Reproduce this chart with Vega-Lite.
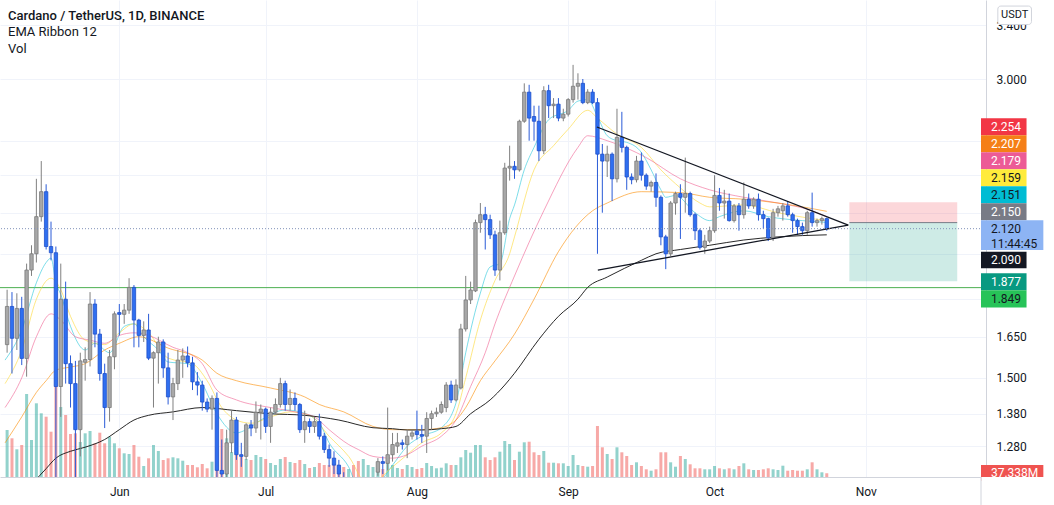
{
"$schema": "https://vega.github.io/schema/vega-lite/v6.json",
"width": 986, "height": 477,
"autosize": {"type": "none"},
"padding": {"left": 0, "top": 0, "right": 68, "bottom": 28},
"background": "white",
"config": {"view": {"stroke": null}, "font": "Roboto"},
"title": {"text": "Cardano / TetherUS, 1D, BINANCE", "subtitle": ["EMA Ribbon 12", "Vol"], "anchor": "start", "frame": "group", "orient": "top", "offset": -56, "dx": 8, "font": "Roboto", "fontSize": 13, "fontWeight": 500, "color": "#131722", "subtitleFont": "Roboto", "subtitleFontSize": 13, "subtitleColor": "#131722", "subtitlePadding": 3, "subtitleLineHeight": 17},
"datasets": {
"k": [
{"d":"2021-05-09","o":1.62,"h":1.84,"l":1.59,"c":1.77,"v":470},
{"d":"2021-05-10","o":1.77,"h":1.83,"l":1.515,"c":1.644,"v":387},
{"d":"2021-05-11","o":1.644,"h":1.825,"l":1.6,"c":1.762,"v":277},
{"d":"2021-05-12","o":1.762,"h":1.81,"l":1.545,"c":1.569,"v":320},
{"d":"2021-05-13","o":1.569,"h":1.955,"l":1.504,"c":1.926,"v":830},
{"d":"2021-05-14","o":1.926,"h":2.04,"l":1.9,"c":2.0,"v":370},
{"d":"2021-05-15","o":2.0,"h":2.38,"l":1.96,"c":2.18,"v":737},
{"d":"2021-05-16","o":2.18,"h":2.48,"l":2.155,"c":2.31,"v":637},
{"d":"2021-05-17","o":2.31,"h":2.35,"l":2.02,"c":2.034,"v":603},
{"d":"2021-05-18","o":2.034,"h":2.155,"l":1.97,"c":2.005,"v":453},
{"d":"2021-05-19","o":2.005,"h":2.034,"l":1.0,"c":1.47,"v":1000},
{"d":"2021-05-20","o":1.47,"h":1.955,"l":1.37,"c":1.8,"v":700},
{"d":"2021-05-21","o":1.8,"h":1.875,"l":1.48,"c":1.55,"v":620},
{"d":"2021-05-22","o":1.55,"h":1.58,"l":1.4,"c":1.48,"v":430},
{"d":"2021-05-23","o":1.48,"h":1.56,"l":1.18,"c":1.33,"v":437},
{"d":"2021-05-24","o":1.33,"h":1.59,"l":1.25,"c":1.56,"v":350},
{"d":"2021-05-25","o":1.555,"h":1.61,"l":1.49,"c":1.565,"v":437},
{"d":"2021-05-26","o":1.565,"h":1.83,"l":1.54,"c":1.78,"v":460},
{"d":"2021-05-27","o":1.78,"h":1.8,"l":1.61,"c":1.66,"v":337},
{"d":"2021-05-28","o":1.66,"h":1.68,"l":1.49,"c":1.515,"v":443},
{"d":"2021-05-29","o":1.515,"h":1.55,"l":1.335,"c":1.4,"v":337},
{"d":"2021-05-30","o":1.4,"h":1.6,"l":1.355,"c":1.575,"v":403},
{"d":"2021-05-31","o":1.575,"h":1.75,"l":1.53,"c":1.74,"v":337},
{"d":"2021-06-01","o":1.745,"h":1.78,"l":1.655,"c":1.738,"v":287},
{"d":"2021-06-02","o":1.738,"h":1.78,"l":1.7,"c":1.755,"v":237},
{"d":"2021-06-03","o":1.755,"h":1.89,"l":1.74,"c":1.85,"v":230},
{"d":"2021-06-04","o":1.85,"h":1.86,"l":1.61,"c":1.715,"v":320},
{"d":"2021-06-05","o":1.715,"h":1.72,"l":1.61,"c":1.655,"v":203},
{"d":"2021-06-06","o":1.655,"h":1.71,"l":1.63,"c":1.676,"v":110},
{"d":"2021-06-07","o":1.676,"h":1.74,"l":1.563,"c":1.57,"v":187},
{"d":"2021-06-08","o":1.57,"h":1.595,"l":1.4,"c":1.59,"v":320},
{"d":"2021-06-09","o":1.59,"h":1.65,"l":1.48,"c":1.63,"v":260},
{"d":"2021-06-10","o":1.63,"h":1.64,"l":1.5,"c":1.535,"v":170},
{"d":"2021-06-11","o":1.535,"h":1.59,"l":1.41,"c":1.435,"v":187},
{"d":"2021-06-12","o":1.435,"h":1.5,"l":1.36,"c":1.48,"v":197},
{"d":"2021-06-13","o":1.48,"h":1.6,"l":1.458,"c":1.563,"v":187},
{"d":"2021-06-14","o":1.563,"h":1.606,"l":1.5,"c":1.578,"v":163},
{"d":"2021-06-15","o":1.578,"h":1.613,"l":1.537,"c":1.553,"v":120},
{"d":"2021-06-16","o":1.553,"h":1.575,"l":1.458,"c":1.486,"v":120},
{"d":"2021-06-17","o":1.486,"h":1.52,"l":1.44,"c":1.475,"v":97},
{"d":"2021-06-18","o":1.475,"h":1.49,"l":1.39,"c":1.418,"v":130},
{"d":"2021-06-19","o":1.418,"h":1.43,"l":1.385,"c":1.395,"v":87},
{"d":"2021-06-20","o":1.395,"h":1.44,"l":1.33,"c":1.43,"v":153},
{"d":"2021-06-21","o":1.43,"h":1.45,"l":1.18,"c":1.21,"v":300},
{"d":"2021-06-22","o":1.21,"h":1.3,"l":1.04,"c":1.2,"v":480},
{"d":"2021-06-23","o":1.2,"h":1.33,"l":1.18,"c":1.29,"v":387},
{"d":"2021-06-24","o":1.29,"h":1.39,"l":1.26,"c":1.36,"v":250},
{"d":"2021-06-25","o":1.36,"h":1.37,"l":1.24,"c":1.255,"v":287},
{"d":"2021-06-26","o":1.255,"h":1.29,"l":1.22,"c":1.25,"v":200},
{"d":"2021-06-27","o":1.25,"h":1.35,"l":1.24,"c":1.345,"v":180},
{"d":"2021-06-28","o":1.345,"h":1.36,"l":1.31,"c":1.335,"v":170},
{"d":"2021-06-29","o":1.335,"h":1.42,"l":1.32,"c":1.385,"v":220},
{"d":"2021-06-30","o":1.385,"h":1.41,"l":1.3,"c":1.395,"v":200},
{"d":"2021-07-01","o":1.395,"h":1.4,"l":1.32,"c":1.34,"v":180},
{"d":"2021-07-02","o":1.34,"h":1.4,"l":1.29,"c":1.385,"v":140},
{"d":"2021-07-03","o":1.385,"h":1.43,"l":1.38,"c":1.41,"v":120},
{"d":"2021-07-04","o":1.41,"h":1.5,"l":1.4,"c":1.48,"v":180},
{"d":"2021-07-05","o":1.48,"h":1.49,"l":1.39,"c":1.41,"v":200},
{"d":"2021-07-06","o":1.41,"h":1.46,"l":1.39,"c":1.43,"v":150},
{"d":"2021-07-07","o":1.43,"h":1.45,"l":1.39,"c":1.41,"v":140},
{"d":"2021-07-08","o":1.41,"h":1.415,"l":1.32,"c":1.33,"v":170},
{"d":"2021-07-09","o":1.33,"h":1.39,"l":1.29,"c":1.355,"v":130},
{"d":"2021-07-10","o":1.355,"h":1.365,"l":1.32,"c":1.34,"v":90},
{"d":"2021-07-11","o":1.34,"h":1.37,"l":1.32,"c":1.355,"v":100},
{"d":"2021-07-12","o":1.355,"h":1.38,"l":1.3,"c":1.31,"v":140},
{"d":"2021-07-13","o":1.31,"h":1.32,"l":1.26,"c":1.27,"v":120},
{"d":"2021-07-14","o":1.27,"h":1.285,"l":1.22,"c":1.245,"v":120},
{"d":"2021-07-15","o":1.245,"h":1.265,"l":1.2,"c":1.225,"v":140},
{"d":"2021-07-16","o":1.225,"h":1.24,"l":1.17,"c":1.2,"v":120},
{"d":"2021-07-17","o":1.19,"h":1.205,"l":1.15,"c":1.17,"v":100},
{"d":"2021-07-18","o":1.17,"h":1.19,"l":1.15,"c":1.18,"v":80},
{"d":"2021-07-19","o":1.18,"h":1.185,"l":1.1,"c":1.12,"v":120},
{"d":"2021-07-20","o":1.12,"h":1.13,"l":1.02,"c":1.05,"v":160},
{"d":"2021-07-21","o":1.05,"h":1.17,"l":1.03,"c":1.15,"v":180},
{"d":"2021-07-22","o":1.15,"h":1.185,"l":1.12,"c":1.17,"v":120},
{"d":"2021-07-23","o":1.17,"h":1.19,"l":1.15,"c":1.185,"v":100},
{"d":"2021-07-24","o":1.205,"h":1.245,"l":1.195,"c":1.235,"v":90},
{"d":"2021-07-25","o":1.235,"h":1.25,"l":1.2,"c":1.23,"v":80},
{"d":"2021-07-26","o":1.23,"h":1.4,"l":1.21,"c":1.255,"v":160},
{"d":"2021-07-27","o":1.255,"h":1.32,"l":1.235,"c":1.285,"v":120},
{"d":"2021-07-28","o":1.28,"h":1.32,"l":1.26,"c":1.29,"v":90},
{"d":"2021-07-29","o":1.29,"h":1.3,"l":1.27,"c":1.285,"v":80},
{"d":"2021-07-30","o":1.285,"h":1.33,"l":1.245,"c":1.31,"v":120},
{"d":"2021-07-31","o":1.31,"h":1.33,"l":1.3,"c":1.32,"v":100},
{"d":"2021-08-01","o":1.325,"h":1.39,"l":1.3,"c":1.315,"v":80},
{"d":"2021-08-02","o":1.315,"h":1.345,"l":1.29,"c":1.31,"v":90},
{"d":"2021-08-03","o":1.31,"h":1.385,"l":1.26,"c":1.365,"v":140},
{"d":"2021-08-04","o":1.365,"h":1.39,"l":1.33,"c":1.38,"v":110},
{"d":"2021-08-05","o":1.38,"h":1.4,"l":1.37,"c":1.385,"v":87},
{"d":"2021-08-06","o":1.385,"h":1.42,"l":1.38,"c":1.41,"v":93},
{"d":"2021-08-07","o":1.4,"h":1.485,"l":1.385,"c":1.475,"v":137},
{"d":"2021-08-08","o":1.475,"h":1.49,"l":1.415,"c":1.425,"v":120},
{"d":"2021-08-09","o":1.425,"h":1.495,"l":1.42,"c":1.475,"v":120},
{"d":"2021-08-10","o":1.465,"h":1.7,"l":1.46,"c":1.68,"v":197},
{"d":"2021-08-11","o":1.68,"h":1.9,"l":1.67,"c":1.797,"v":270},
{"d":"2021-08-12","o":1.797,"h":1.875,"l":1.78,"c":1.839,"v":243},
{"d":"2021-08-13","o":1.835,"h":2.165,"l":1.83,"c":2.15,"v":320},
{"d":"2021-08-14","o":2.15,"h":2.25,"l":2.1,"c":2.19,"v":320},
{"d":"2021-08-15","o":2.19,"h":2.23,"l":2.02,"c":2.165,"v":197},
{"d":"2021-08-16","o":2.165,"h":2.19,"l":2.07,"c":2.09,"v":170},
{"d":"2021-08-17","o":2.09,"h":2.11,"l":1.9,"c":1.926,"v":197},
{"d":"2021-08-18","o":1.926,"h":2.16,"l":1.88,"c":2.1,"v":253},
{"d":"2021-08-19","o":2.1,"h":2.47,"l":2.09,"c":2.44,"v":360},
{"d":"2021-08-20","o":2.44,"h":2.57,"l":2.37,"c":2.45,"v":330},
{"d":"2021-08-21","o":2.45,"h":2.48,"l":2.38,"c":2.43,"v":170},
{"d":"2021-08-22","o":2.43,"h":2.73,"l":2.42,"c":2.72,"v":253},
{"d":"2021-08-23","o":2.72,"h":2.97,"l":2.71,"c":2.91,"v":347},
{"d":"2021-08-24","o":2.91,"h":2.96,"l":2.6,"c":2.74,"v":353},
{"d":"2021-08-25","o":2.75,"h":2.82,"l":2.6,"c":2.72,"v":247},
{"d":"2021-08-26","o":2.72,"h":2.82,"l":2.48,"c":2.54,"v":220},
{"d":"2021-08-27","o":2.54,"h":2.95,"l":2.52,"c":2.92,"v":260},
{"d":"2021-08-28","o":2.92,"h":2.96,"l":2.74,"c":2.82,"v":143},
{"d":"2021-08-29","o":2.82,"h":2.87,"l":2.74,"c":2.83,"v":143},
{"d":"2021-08-30","o":2.83,"h":2.87,"l":2.72,"c":2.74,"v":137},
{"d":"2021-08-31","o":2.74,"h":2.8,"l":2.72,"c":2.765,"v":137},
{"d":"2021-09-01","o":2.765,"h":2.87,"l":2.75,"c":2.86,"v":110},
{"d":"2021-09-02","o":2.86,"h":3.1,"l":2.84,"c":2.95,"v":220},
{"d":"2021-09-03","o":2.95,"h":3.04,"l":2.86,"c":2.97,"v":120},
{"d":"2021-09-04","o":2.97,"h":3.0,"l":2.83,"c":2.84,"v":110},
{"d":"2021-09-05","o":2.84,"h":2.93,"l":2.83,"c":2.91,"v":103},
{"d":"2021-09-06","o":2.91,"h":2.93,"l":2.83,"c":2.84,"v":110},
{"d":"2021-09-07","o":2.84,"h":2.87,"l":2.0,"c":2.52,"v":510},
{"d":"2021-09-08","o":2.52,"h":2.58,"l":2.2,"c":2.48,"v":297},
{"d":"2021-09-09","o":2.48,"h":2.57,"l":2.39,"c":2.52,"v":230},
{"d":"2021-09-10","o":2.52,"h":2.53,"l":2.26,"c":2.38,"v":180},
{"d":"2021-09-11","o":2.38,"h":2.8,"l":2.36,"c":2.62,"v":297},
{"d":"2021-09-12","o":2.62,"h":2.78,"l":2.53,"c":2.56,"v":247},
{"d":"2021-09-13","o":2.56,"h":2.57,"l":2.32,"c":2.39,"v":210},
{"d":"2021-09-14","o":2.39,"h":2.41,"l":2.35,"c":2.375,"v":120},
{"d":"2021-09-15","o":2.375,"h":2.51,"l":2.36,"c":2.48,"v":147},
{"d":"2021-09-16","o":2.48,"h":2.53,"l":2.37,"c":2.4,"v":110},
{"d":"2021-09-17","o":2.4,"h":2.41,"l":2.32,"c":2.34,"v":77},
{"d":"2021-09-18","o":2.34,"h":2.37,"l":2.31,"c":2.36,"v":63},
{"d":"2021-09-19","o":2.36,"h":2.41,"l":2.23,"c":2.28,"v":77},
{"d":"2021-09-20","o":2.28,"h":2.29,"l":2.04,"c":2.08,"v":247},
{"d":"2021-09-21","o":2.08,"h":2.09,"l":1.93,"c":2.0,"v":247},
{"d":"2021-09-22","o":2.0,"h":2.26,"l":1.99,"c":2.25,"v":147},
{"d":"2021-09-23","o":2.25,"h":2.31,"l":2.19,"c":2.3,"v":103},
{"d":"2021-09-24","o":2.3,"h":2.35,"l":2.07,"c":2.28,"v":210},
{"d":"2021-09-25","o":2.28,"h":2.5,"l":2.2,"c":2.3,"v":180},
{"d":"2021-09-26","o":2.3,"h":2.31,"l":2.18,"c":2.19,"v":127},
{"d":"2021-09-27","o":2.19,"h":2.2,"l":2.065,"c":2.11,"v":87},
{"d":"2021-09-28","o":2.11,"h":2.12,"l":2.02,"c":2.03,"v":87},
{"d":"2021-09-29","o":2.03,"h":2.09,"l":2.0,"c":2.06,"v":77},
{"d":"2021-09-30","o":2.06,"h":2.13,"l":2.05,"c":2.11,"v":77},
{"d":"2021-10-01","o":2.11,"h":2.4,"l":2.1,"c":2.29,"v":110},
{"d":"2021-10-02","o":2.29,"h":2.33,"l":2.21,"c":2.25,"v":87},
{"d":"2021-10-03","o":2.25,"h":2.32,"l":2.17,"c":2.26,"v":77},
{"d":"2021-10-04","o":2.26,"h":2.3,"l":2.155,"c":2.16,"v":87},
{"d":"2021-10-05","o":2.16,"h":2.245,"l":2.15,"c":2.235,"v":77},
{"d":"2021-10-06","o":2.235,"h":2.25,"l":2.11,"c":2.19,"v":110},
{"d":"2021-10-07","o":2.19,"h":2.36,"l":2.17,"c":2.27,"v":137},
{"d":"2021-10-08","o":2.27,"h":2.3,"l":2.22,"c":2.235,"v":77},
{"d":"2021-10-09","o":2.235,"h":2.28,"l":2.22,"c":2.27,"v":70},
{"d":"2021-10-10","o":2.27,"h":2.3,"l":2.16,"c":2.19,"v":70},
{"d":"2021-10-11","o":2.19,"h":2.21,"l":2.12,"c":2.17,"v":77},
{"d":"2021-10-12","o":2.17,"h":2.175,"l":2.06,"c":2.075,"v":87},
{"d":"2021-10-13","o":2.075,"h":2.22,"l":2.06,"c":2.2,"v":77},
{"d":"2021-10-14","o":2.2,"h":2.235,"l":2.18,"c":2.22,"v":70},
{"d":"2021-10-15","o":2.21,"h":2.25,"l":2.16,"c":2.235,"v":113},
{"d":"2021-10-16","o":2.235,"h":2.26,"l":2.18,"c":2.19,"v":63},
{"d":"2021-10-17","o":2.19,"h":2.2,"l":2.1,"c":2.16,"v":70},
{"d":"2021-10-18","o":2.16,"h":2.17,"l":2.09,"c":2.13,"v":63},
{"d":"2021-10-19","o":2.13,"h":2.15,"l":2.09,"c":2.11,"v":63},
{"d":"2021-10-20","o":2.11,"h":2.21,"l":2.09,"c":2.2,"v":77},
{"d":"2021-10-21","o":2.2,"h":2.305,"l":2.13,"c":2.15,"v":147},
{"d":"2021-10-22","o":2.15,"h":2.17,"l":2.13,"c":2.16,"v":77},
{"d":"2021-10-23","o":2.16,"h":2.18,"l":2.14,"c":2.17,"v":47},
{"d":"2021-10-24","o":2.17,"h":2.175,"l":2.11,"c":2.12,"v":37.338}
],
"ema": [
{"d":"2021-05-08T14:00:00Z","k":"c","v":1.563},{"d":"2021-05-12","k":"c","v":1.676},{"d":"2021-05-15","k":"c","v":1.87},{"d":"2021-05-17","k":"c","v":1.96},{"d":"2021-05-18","k":"c","v":1.98},{"d":"2021-05-19","k":"c","v":1.87},{"d":"2021-05-20","k":"c","v":1.82},{"d":"2021-05-22","k":"c","v":1.69},{"d":"2021-05-25","k":"c","v":1.6},{"d":"2021-05-27","k":"c","v":1.625},{"d":"2021-05-30","k":"c","v":1.59},{"d":"2021-06-02","k":"c","v":1.69},{"d":"2021-06-04","k":"c","v":1.7},{"d":"2021-06-06","k":"c","v":1.65},{"d":"2021-06-09","k":"c","v":1.6},{"d":"2021-06-11","k":"c","v":1.556},{"d":"2021-06-15","k":"c","v":1.55},{"d":"2021-06-18","k":"c","v":1.48},{"d":"2021-06-21","k":"c","v":1.38},{"d":"2021-06-25","k":"c","v":1.32},{"d":"2021-06-27","k":"c","v":1.33},{"d":"2021-06-30","k":"c","v":1.36},{"d":"2021-07-05","k":"c","v":1.392},{"d":"2021-07-08","k":"c","v":1.386},{"d":"2021-07-12","k":"c","v":1.35},{"d":"2021-07-14","k":"c","v":1.29},{"d":"2021-07-18","k":"c","v":1.22},{"d":"2021-07-21","k":"c","v":1.13},{"d":"2021-07-27","k":"c","v":1.225},{"d":"2021-07-30","k":"c","v":1.28},{"d":"2021-08-02","k":"c","v":1.31},{"d":"2021-08-06","k":"c","v":1.336},{"d":"2021-08-09","k":"c","v":1.415},{"d":"2021-08-11","k":"c","v":1.59},{"d":"2021-08-14","k":"c","v":1.826},{"d":"2021-08-16","k":"c","v":1.94},{"d":"2021-08-18","k":"c","v":1.955},{"d":"2021-08-20","k":"c","v":2.17},{"d":"2021-08-21","k":"c","v":2.24},{"d":"2021-08-23","k":"c","v":2.43},{"d":"2021-08-25","k":"c","v":2.56},{"d":"2021-08-28","k":"c","v":2.73},{"d":"2021-09-01","k":"c","v":2.79},{"d":"2021-09-03","k":"c","v":2.85},{"d":"2021-09-05","k":"c","v":2.86},{"d":"2021-09-07","k":"c","v":2.75},{"d":"2021-09-09","k":"c","v":2.63},{"d":"2021-09-11","k":"c","v":2.6},{"d":"2021-09-13","k":"c","v":2.59},{"d":"2021-09-16","k":"c","v":2.53},{"d":"2021-09-18","k":"c","v":2.43},{"d":"2021-09-20","k":"c","v":2.32},{"d":"2021-09-21","k":"c","v":2.28},{"d":"2021-09-23","k":"c","v":2.29},{"d":"2021-09-27","k":"c","v":2.2},{"d":"2021-09-30","k":"c","v":2.16},{"d":"2021-10-02","k":"c","v":2.18},{"d":"2021-10-07","k":"c","v":2.21},{"d":"2021-10-12","k":"c","v":2.18},{"d":"2021-10-19","k":"c","v":2.16},{"d":"2021-10-24","k":"c","v":2.151},
{"d":"2021-05-08T14:00:00Z","k":"y","v":1.48},{"d":"2021-05-12","k":"y","v":1.6},{"d":"2021-05-15","k":"y","v":1.8},{"d":"2021-05-18","k":"y","v":1.89},{"d":"2021-05-20","k":"y","v":1.84},{"d":"2021-05-22","k":"y","v":1.73},{"d":"2021-05-25","k":"y","v":1.637},{"d":"2021-05-29","k":"y","v":1.62},{"d":"2021-06-01","k":"y","v":1.665},{"d":"2021-06-04","k":"y","v":1.7},{"d":"2021-06-07","k":"y","v":1.665},{"d":"2021-06-11","k":"y","v":1.57},{"d":"2021-06-16","k":"y","v":1.55},{"d":"2021-06-19","k":"y","v":1.49},{"d":"2021-06-22","k":"y","v":1.4},{"d":"2021-06-25","k":"y","v":1.36},{"d":"2021-06-28","k":"y","v":1.35},{"d":"2021-07-02","k":"y","v":1.37},{"d":"2021-07-06","k":"y","v":1.386},{"d":"2021-07-10","k":"y","v":1.375},{"d":"2021-07-14","k":"y","v":1.31},{"d":"2021-07-18","k":"y","v":1.25},{"d":"2021-07-22","k":"y","v":1.17},{"d":"2021-07-27","k":"y","v":1.22},{"d":"2021-07-30","k":"y","v":1.255},{"d":"2021-08-02","k":"y","v":1.29},{"d":"2021-08-06","k":"y","v":1.32},{"d":"2021-08-09","k":"y","v":1.38},{"d":"2021-08-11","k":"y","v":1.5},{"d":"2021-08-14","k":"y","v":1.715},{"d":"2021-08-17","k":"y","v":1.88},{"d":"2021-08-20","k":"y","v":2.0},{"d":"2021-08-21","k":"y","v":2.08},{"d":"2021-08-25","k":"y","v":2.43},{"d":"2021-08-29","k":"y","v":2.57},{"d":"2021-09-01","k":"y","v":2.67},{"d":"2021-09-05","k":"y","v":2.79},{"d":"2021-09-07","k":"y","v":2.74},{"d":"2021-09-11","k":"y","v":2.64},{"d":"2021-09-16","k":"y","v":2.56},{"d":"2021-09-20","k":"y","v":2.43},{"d":"2021-09-24","k":"y","v":2.33},{"d":"2021-09-28","k":"y","v":2.25},{"d":"2021-09-30","k":"y","v":2.23},{"d":"2021-10-07","k":"y","v":2.24},{"d":"2021-10-14","k":"y","v":2.2},{"d":"2021-10-24","k":"y","v":2.159},
{"d":"2021-05-08T14:00:00Z","k":"p","v":1.4},{"d":"2021-05-12","k":"p","v":1.5},{"d":"2021-05-15","k":"p","v":1.65},{"d":"2021-05-18","k":"p","v":1.74},{"d":"2021-05-20","k":"p","v":1.715},{"d":"2021-05-23","k":"p","v":1.65},{"d":"2021-05-26","k":"p","v":1.637},{"d":"2021-05-29","k":"p","v":1.625},{"d":"2021-06-01","k":"p","v":1.655},{"d":"2021-06-04","k":"p","v":1.665},{"d":"2021-06-07","k":"p","v":1.655},{"d":"2021-06-12","k":"p","v":1.61},{"d":"2021-06-15","k":"p","v":1.59},{"d":"2021-06-18","k":"p","v":1.55},{"d":"2021-06-21","k":"p","v":1.458},{"d":"2021-06-25","k":"p","v":1.425},{"d":"2021-07-02","k":"p","v":1.4},{"d":"2021-07-07","k":"p","v":1.386},{"d":"2021-07-11","k":"p","v":1.37},{"d":"2021-07-14","k":"p","v":1.33},{"d":"2021-07-18","k":"p","v":1.285},{"d":"2021-07-20","k":"p","v":1.27},{"d":"2021-07-23","k":"p","v":1.25},{"d":"2021-07-27","k":"p","v":1.245},{"d":"2021-07-30","k":"p","v":1.255},{"d":"2021-08-02","k":"p","v":1.28},{"d":"2021-08-06","k":"p","v":1.31},{"d":"2021-08-09","k":"p","v":1.36},{"d":"2021-08-12","k":"p","v":1.47},{"d":"2021-08-15","k":"p","v":1.59},{"d":"2021-08-17","k":"p","v":1.7},{"d":"2021-08-21","k":"p","v":1.9},{"d":"2021-08-27","k":"p","v":2.21},{"d":"2021-09-03","k":"p","v":2.56},{"d":"2021-09-05","k":"p","v":2.63},{"d":"2021-09-09","k":"p","v":2.6},{"d":"2021-09-17","k":"p","v":2.5},{"d":"2021-09-24","k":"p","v":2.38},{"d":"2021-09-30","k":"p","v":2.32},{"d":"2021-10-07","k":"p","v":2.28},{"d":"2021-10-14","k":"p","v":2.25},{"d":"2021-10-21","k":"p","v":2.21},{"d":"2021-10-24","k":"p","v":2.179},
{"d":"2021-05-08T14:00:00Z","k":"o","v":1.29},{"d":"2021-05-12","k":"o","v":1.37},{"d":"2021-05-15","k":"o","v":1.45},{"d":"2021-05-17","k":"o","v":1.49},{"d":"2021-05-19","k":"o","v":1.527},{"d":"2021-05-22","k":"o","v":1.538},{"d":"2021-05-25","k":"o","v":1.55},{"d":"2021-05-29","k":"o","v":1.6},{"d":"2021-06-01","k":"o","v":1.625},{"d":"2021-06-05","k":"o","v":1.65},{"d":"2021-06-11","k":"o","v":1.607},{"d":"2021-06-18","k":"o","v":1.563},{"d":"2021-06-21","k":"o","v":1.516},{"d":"2021-06-25","k":"o","v":1.49},{"d":"2021-07-02","k":"o","v":1.465},{"d":"2021-07-09","k":"o","v":1.435},{"d":"2021-07-12","k":"o","v":1.41},{"d":"2021-07-17","k":"o","v":1.386},{"d":"2021-07-23","k":"o","v":1.34},{"d":"2021-07-27","k":"o","v":1.33},{"d":"2021-08-02","k":"o","v":1.33},{"d":"2021-08-06","k":"o","v":1.336},{"d":"2021-08-09","k":"o","v":1.36},{"d":"2021-08-11","k":"o","v":1.4},{"d":"2021-08-14","k":"o","v":1.49},{"d":"2021-08-17","k":"o","v":1.56},{"d":"2021-08-21","k":"o","v":1.66},{"d":"2021-08-25","k":"o","v":1.8},{"d":"2021-08-30","k":"o","v":2.01},{"d":"2021-09-06","k":"o","v":2.21},{"d":"2021-09-09","k":"o","v":2.25},{"d":"2021-09-16","k":"o","v":2.31},{"d":"2021-09-24","k":"o","v":2.305},{"d":"2021-09-30","k":"o","v":2.28},{"d":"2021-10-07","k":"o","v":2.27},{"d":"2021-10-14","k":"o","v":2.25},{"d":"2021-10-24","k":"o","v":2.207},
{"d":"2021-05-08T14:00:00Z","k":"b","v":1.08},{"d":"2021-05-12","k":"b","v":1.14},{"d":"2021-05-17","k":"b","v":1.215},{"d":"2021-05-19","k":"b","v":1.245},{"d":"2021-05-22","k":"b","v":1.265},{"d":"2021-05-25","k":"b","v":1.277},{"d":"2021-05-29","k":"b","v":1.3},{"d":"2021-06-01","k":"b","v":1.33},{"d":"2021-06-04","k":"b","v":1.36},{"d":"2021-06-07","k":"b","v":1.375},{"d":"2021-06-12","k":"b","v":1.386},{"d":"2021-06-18","k":"b","v":1.4},{"d":"2021-06-25","k":"b","v":1.39},{"d":"2021-07-02","k":"b","v":1.38},{"d":"2021-07-09","k":"b","v":1.375},{"d":"2021-07-16","k":"b","v":1.36},{"d":"2021-07-23","k":"b","v":1.336},{"d":"2021-07-27","k":"b","v":1.333},{"d":"2021-07-30","k":"b","v":1.329},{"d":"2021-08-02","k":"b","v":1.329},{"d":"2021-08-06","k":"b","v":1.333},{"d":"2021-08-09","k":"b","v":1.34},{"d":"2021-08-12","k":"b","v":1.38},{"d":"2021-08-16","k":"b","v":1.425},{"d":"2021-08-19","k":"b","v":1.475},{"d":"2021-08-21","k":"b","v":1.516},{"d":"2021-08-26","k":"b","v":1.64},{"d":"2021-08-30","k":"b","v":1.73},{"d":"2021-09-03","k":"b","v":1.8},{"d":"2021-09-05","k":"b","v":1.85},{"d":"2021-09-09","k":"b","v":1.895},{"d":"2021-09-16","k":"b","v":1.97},{"d":"2021-09-19","k":"b","v":2.0},{"d":"2021-09-24","k":"b","v":2.02},{"d":"2021-09-30","k":"b","v":2.04},{"d":"2021-10-07","k":"b","v":2.065},{"d":"2021-10-14","k":"b","v":2.08},{"d":"2021-10-24","k":"b","v":2.09}
],
"tri": [
{"d":"2021-09-06T21:20:00Z","p":2.684,"g":"u"},{"d":"2021-10-28T09:50:00Z","p":2.138,"g":"u"},
{"d":"2021-09-07T01:55:00Z","p":1.926,"g":"l"},{"d":"2021-10-28T09:50:00Z","p":2.138,"g":"l"}
],
"lab": [
{"t":"2.254","k":"sl","lo":2.633,"hi":2.739,"m":2.685},
{"t":"2.207","k":"o","lo":2.531,"hi":2.633,"m":2.581},
{"t":"2.179","k":"p","lo":2.433,"hi":2.531,"m":2.482},
{"t":"2.159","k":"y","lo":2.339,"hi":2.433,"m":2.386},
{"t":"2.151","k":"c","lo":2.249,"hi":2.339,"m":2.293},
{"t":"2.150","k":"en","lo":2.162,"hi":2.249,"m":2.205},
{"t":"2.090","k":"b","lo":1.934,"hi":2.01,"m":1.971},
{"t":"1.877","k":"tp","lo":1.838,"hi":1.912,"m":1.874},
{"t":"1.849","k":"g","lo":1.766,"hi":1.838,"m":1.802}
],
"last": [
{"t":"2.120","m":2.12},{"t":"11:44:45","m":2.046}
]
},
"layer": [
{
"data": {"name": "k"},
"mark": {"type": "bar", "clip": true, "opacity": 0.5},
"encoding": {
"x": {"field": "d", "type": "temporal", "title": null,
"scale": {"type": "utc", "nice": false, "domain": [{"year":2021,"month":5,"date":8,"hours":13,"minutes":40,"utc":true},{"year":2021,"month":11,"date":24,"hours":14,"minutes":40,"utc":true}]},
"axis": {"values": [{"year":2021,"month":6,"date":1,"utc":true},{"year":2021,"month":7,"date":1,"utc":true},{"year":2021,"month":8,"date":1,"utc":true},{"year":2021,"month":9,"date":1,"utc":true},{"year":2021,"month":10,"date":1,"utc":true},{"year":2021,"month":11,"date":1,"utc":true}],
"format": "%b", "labelFont": "Roboto", "labelFontSize": 12, "labelColor": "#131722", "ticks": false, "labelPadding": 9, "domainColor": "#d1d4dc", "grid": true, "gridColor": "#f0f3fa", "title": null, "labelFlush": false, "zindex": 0}},
"y": {"field": "v", "type": "quantitative", "title": null, "scale": {"domain": [0, 4770], "nice": false}, "axis": null},
"size": {"value": 3},
"color": {"condition": {"test": "datum.c < datum.o", "value": "#ef5350"}, "value": "#26a69a"}
}
},
{
"resolve": {"scale": {"color": "independent"}},
"layer": [
{
"data": {"values": [{}]},
"mark": {"type": "rect", "clip": true, "color": "#f23645", "opacity": 0.2},
"encoding": {
"x": {"datum": {"year":2021,"month":10,"date":28,"hours":15,"minutes":5,"utc":true}, "type": "temporal", "title": null},
"x2": {"datum": {"year":2021,"month":11,"date":19,"hours":17,"minutes":40,"utc":true}},
"y": {"datum": 2.254, "type": "quantitative", "title": null,
"scale": {"type": "log", "domain": [1.1917, 3.6034], "nice": false, "zero": false},
"axis": {"orient": "right", "values": [3.4, 3.0, 2.6, 2.4, 2.2, 2.0, 1.8, 1.65, 1.5, 1.38, 1.28], "labelExpr": "datum.value > 1.7 && datum.value < 2.9 ? '' : format(datum.value, '.3f')", "labelFont": "Roboto", "labelFontSize": 12, "labelColor": "#131722", "labelAlign": "left", "labelPadding": 10, "ticks": false, "domainColor": "#d1d4dc", "grid": true, "gridColor": "#f0f3fa", "title": null, "zindex": 0}},
"y2": {"datum": 2.15}
}
},
{
"data": {"values": [{}]},
"mark": {"type": "rect", "clip": true, "color": "#089981", "opacity": 0.2},
"encoding": {
"x": {"datum": {"year":2021,"month":10,"date":28,"hours":15,"minutes":5,"utc":true}, "type": "temporal"},
"x2": {"datum": {"year":2021,"month":11,"date":19,"hours":17,"minutes":40,"utc":true}},
"y": {"datum": 2.15, "type": "quantitative"},
"y2": {"datum": 1.877}
}
},
{
"data": {"values": [{}]},
"mark": {"type": "rule", "clip": true, "color": "#787b86", "strokeWidth": 1},
"encoding": {
"x": {"datum": {"year":2021,"month":10,"date":28,"hours":15,"minutes":5,"utc":true}, "type": "temporal"},
"x2": {"datum": {"year":2021,"month":11,"date":19,"hours":17,"minutes":40,"utc":true}},
"y": {"datum": 2.15, "type": "quantitative"}
}
},
{
"data": {"values": [{}]},
"mark": {"type": "rule", "clip": true, "color": "#4caf50", "strokeWidth": 1},
"encoding": {"y": {"datum": 1.849, "type": "quantitative"}}
},
{
"data": {"name": "ema"},
"mark": {"type": "line", "clip": true, "strokeWidth": 1, "interpolate": "monotone"},
"encoding": {
"x": {"field": "d", "type": "temporal", "title": null},
"y": {"field": "v", "type": "quantitative", "title": null},
"color": {"field": "k", "type": "nominal", "legend": null, "scale": {"domain": ["c","y","p","o","b"], "range": ["#26c6da","#fdd835","#f06292","#fb8c00","#1c1c1c"]}},
"opacity": {"condition": {"test": "datum.k == 'b'", "value": 0.95}, "value": 0.6}
}
},
{
"data": {"name": "k"},
"mark": {"type": "rule", "clip": true, "strokeWidth": 1},
"encoding": {
"x": {"field": "d", "type": "temporal", "title": null},
"y": {"field": "l", "type": "quantitative", "title": null},
"y2": {"field": "h"},
"color": {"condition": {"test": "datum.c < datum.o", "value": "#2a5bd7"}, "value": "#808080"}
}
},
{
"data": {"name": "k"},
"mark": {"type": "bar", "clip": true, "strokeWidth": 0.8},
"encoding": {
"x": {"field": "d", "type": "temporal", "title": null},
"y": {"field": "o", "type": "quantitative", "title": null},
"y2": {"field": "c"},
"size": {"value": 3.4},
"fill": {"condition": {"test": "datum.c < datum.o", "value": "#2f6ff0"}, "value": "#a8a8a8"},
"stroke": {"condition": {"test": "datum.c < datum.o", "value": "#1f4fc9"}, "value": "#7a7a7a"}
}
},
{
"data": {"name": "tri"},
"mark": {"type": "line", "clip": true, "color": "#131722", "strokeWidth": 1.3},
"encoding": {
"x": {"field": "d", "type": "temporal", "title": null},
"y": {"field": "p", "type": "quantitative", "title": null},
"detail": {"field": "g"}
}
},
{
"data": {"values": [{}]},
"mark": {"type": "rule", "clip": true, "color": "#8092b8", "strokeDash": [1, 2], "strokeWidth": 1},
"encoding": {"y": {"datum": 2.12, "type": "quantitative"}}
},
{
"data": {"name": "lab"},
"mark": {"type": "rect", "clip": false},
"encoding": {
"x": {"datum": {"year":2021,"month":11,"date":24,"hours":14,"minutes":40,"utc":true}, "type": "temporal"},
"x2": {"datum": {"year":2021,"month":12,"date":3,"hours":22,"minutes":40,"utc":true}},
"y": {"field": "lo", "type": "quantitative", "title": null},
"y2": {"field": "hi"},
"color": {"field": "k", "type": "nominal", "legend": null, "scale": {"domain": ["sl","o","p","y","c","en","b","tp","g"], "range": ["#f23645","#f57f17","#ec5b96","#ffeb3b","#00bcd4","#787b86","#131722","#089981","#27c358"]}}
}
},
{
"data": {"values": [{}]},
"mark": {"type": "rect", "clip": false, "color": "#8db4f4"},
"encoding": {
"x": {"datum": {"year":2021,"month":11,"date":24,"hours":14,"minutes":40,"utc":true}, "type": "temporal"},
"x2": {"datum": {"year":2021,"month":12,"date":7,"hours":9,"minutes":20,"utc":true}},
"y": {"datum": 2.162, "type": "quantitative"},
"y2": {"datum": 2.0175}
}
},
{
"data": {"values": [{}]},
"mark": {"type": "rect", "clip": false, "color": "#ef5350"},
"encoding": {
"x": {"datum": {"year":2021,"month":11,"date":24,"hours":14,"minutes":40,"utc":true}, "type": "temporal"},
"x2": {"datum": {"year":2021,"month":12,"date":7,"hours":9,"minutes":20,"utc":true}},
"y": {"datum": 1.2255, "type": "quantitative"},
"y2": {"datum": 1.1808}
}
},
{
"data": {"name": "lab"},
"mark": {"type": "text", "clip": false, "align": "left", "baseline": "middle", "font": "Roboto", "fontSize": 12},
"encoding": {
"x": {"datum": {"year":2021,"month":11,"date":26,"hours":15,"minutes":20,"utc":true}, "type": "temporal"},
"y": {"field": "m", "type": "quantitative", "title": null},
"text": {"field": "t"},
"color": {"field": "k", "type": "nominal", "legend": null, "scale": {"domain": ["sl","o","p","y","c","en","b","tp","g"], "range": ["#ffffff","#ffffff","#ffffff","#131722","#131722","#ffffff","#ffffff","#ffffff","#131722"]}}
}
},
{
"data": {"name": "last"},
"mark": {"type": "text", "clip": false, "align": "left", "baseline": "middle", "font": "Roboto", "fontSize": 12, "color": "#131722"},
"encoding": {
"x": {"datum": {"year":2021,"month":11,"date":26,"hours":15,"minutes":20,"utc":true}, "type": "temporal"},
"y": {"field": "m", "type": "quantitative", "title": null},
"text": {"field": "t"}
}
},
{
"data": {"values": [{}]},
"mark": {"type": "text", "clip": false, "align": "left", "baseline": "middle", "font": "Roboto", "fontSize": 12, "color": "#ffffff", "text": "37.338M"},
"encoding": {
"x": {"datum": {"year":2021,"month":11,"date":26,"hours":15,"minutes":20,"utc":true}, "type": "temporal"},
"y": {"datum": 1.2027, "type": "quantitative"}
}
},
{
"data": {"values": [{}]},
"mark": {"type": "rect", "clip": false, "color": "white"},
"encoding": {
"x": {"datum": {"year":2021,"month":11,"date":24,"hours":15,"minutes":40,"utc":true}, "type": "temporal"},
"x2": {"datum": {"year":2021,"month":12,"date":8,"hours":12,"utc":true}},
"y": {"datum": 1.1917, "type": "quantitative"},
"y2": {"datum": 1.117}
}
},
{
"data": {"values": [{}]},
"mark": {"type": "rule", "clip": false, "color": "#d1d4dc", "strokeWidth": 1},
"encoding": {
"x": {"datum": {"year":2021,"month":11,"date":24,"hours":14,"minutes":40,"utc":true}, "type": "temporal"},
"y": {"datum": 1.1917, "type": "quantitative"},
"y2": {"datum": 1.117}
}
},
{
"data": {"values": [{}]},
"mark": {"type": "rect", "clip": false, "fill": "white", "stroke": "#d1d4dc", "strokeWidth": 1, "cornerRadius": 3},
"encoding": {
"x": {"datum": {"year":2021,"month":11,"date":28,"hours":1,"minutes":30,"utc":true}, "type": "temporal"},
"x2": {"datum": {"year":2021,"month":12,"date":4,"hours":23,"utc":true}},
"y": {"datum": 3.553, "type": "quantitative"},
"y2": {"datum": 3.404}
}
},
{
"data": {"values": [{}]},
"mark": {"type": "text", "clip": false, "align": "center", "baseline": "middle", "font": "Roboto", "fontSize": 11, "color": "#131722", "text": "USDT"},
"encoding": {
"x": {"datum": {"year":2021,"month":12,"date":1,"hours":12,"minutes":15,"utc":true}, "type": "temporal"},
"y": {"datum": 3.48, "type": "quantitative"}
}
}
]
}
],
"resolve": {"scale": {"y": "independent"}}
}
